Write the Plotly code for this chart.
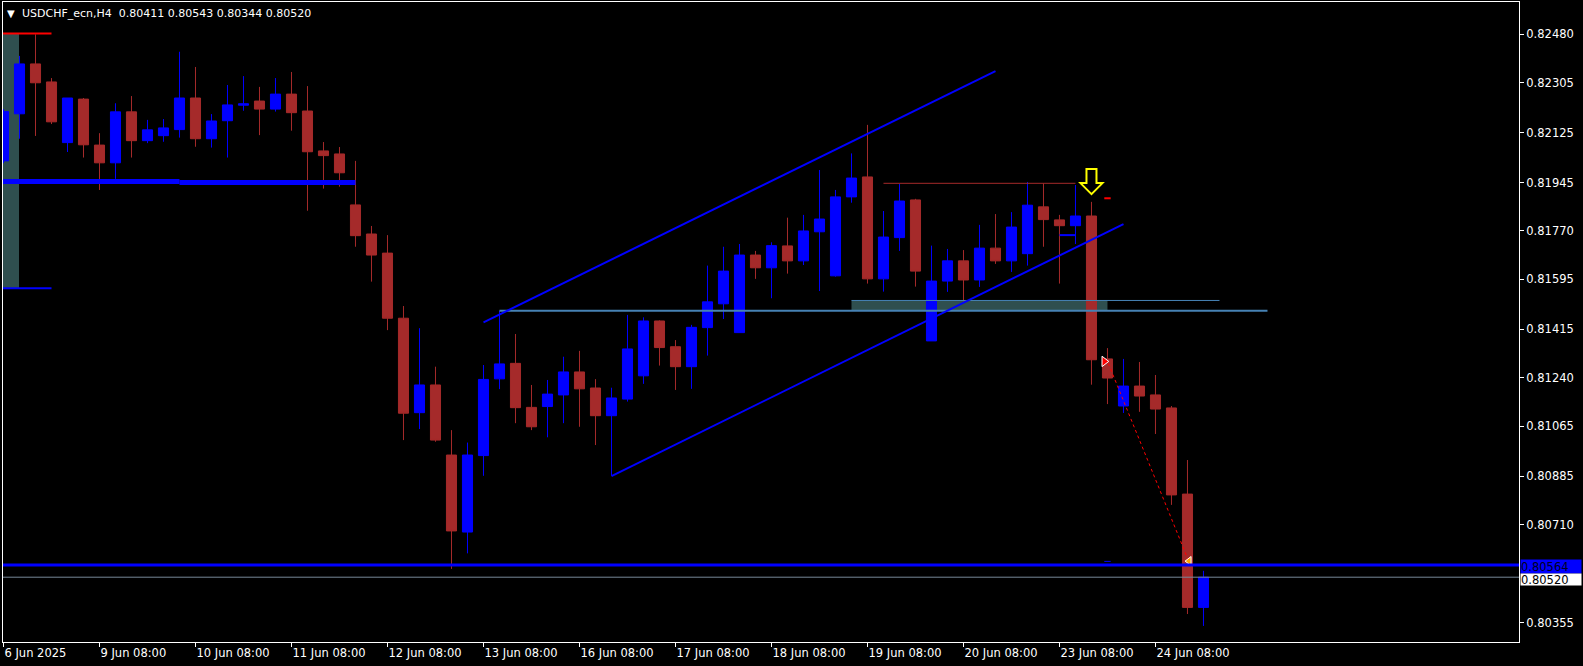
import plotly.graph_objects as go

# ---------------- data ----------------
bar_index = list(range(76))
opens = [0.82023, 0.82193, 0.82373, 0.82308, 0.82089, 0.82246, 0.82080, 0.82016, 0.82200, 0.82096,
         0.82114, 0.82136, 0.82250, 0.82103, 0.82168, 0.82224, 0.82239, 0.82210, 0.82264, 0.82203,
         0.82059, 0.82048, 0.81864, 0.81759, 0.81690, 0.81455, 0.81114, 0.81214, 0.80961, 0.80683,
         0.80959, 0.81236, 0.81292, 0.81133, 0.81136, 0.81178, 0.81261, 0.81203, 0.81103, 0.81163,
         0.81247, 0.81445, 0.81352, 0.81280, 0.81421, 0.81507, 0.81403, 0.81683, 0.81637, 0.81716,
         0.81662, 0.81767, 0.81608, 0.81893, 0.81965, 0.81597, 0.81746, 0.81882, 0.81373, 0.81589,
         0.81662, 0.81593, 0.81708, 0.81662, 0.81688, 0.81857, 0.81810, 0.81789, 0.81824, 0.81308,
         0.81138, 0.81210, 0.81178, 0.81131, 0.80820, 0.80411]
highs = [0.82210, 0.82402, 0.82480, 0.82322, 0.82250, 0.82250, 0.82123, 0.82231, 0.82257, 0.82171,
         0.82174, 0.82417, 0.82362, 0.82192, 0.82297, 0.82329, 0.82290, 0.82322, 0.82344, 0.82293,
         0.82091, 0.82073, 0.82023, 0.81788, 0.81755, 0.81499, 0.81419, 0.81280, 0.81051, 0.81006,
         0.81286, 0.81482, 0.81398, 0.81214, 0.81232, 0.81316, 0.81337, 0.81235, 0.81204, 0.81467,
         0.81458, 0.81447, 0.81376, 0.81431, 0.81645, 0.81713, 0.81723, 0.81698, 0.81729, 0.81818,
         0.81828, 0.81990, 0.81918, 0.82050, 0.82153, 0.81842, 0.81940, 0.81886, 0.81717, 0.81705,
         0.81701, 0.81792, 0.81831, 0.81838, 0.81947, 0.81942, 0.81828, 0.81936, 0.81875, 0.81347,
         0.81308, 0.81297, 0.81250, 0.81138, 0.80943, 0.80543]
lows = [0.82015, 0.82103, 0.82113, 0.82156, 0.82055, 0.82035, 0.81918, 0.81958, 0.82035, 0.82087,
        0.82092, 0.82107, 0.82074, 0.82071, 0.82035, 0.82204, 0.82116, 0.82201, 0.82132, 0.81843,
        0.81923, 0.81930, 0.81713, 0.81587, 0.81412, 0.81015, 0.81055, 0.81009, 0.80550, 0.80606,
        0.80886, 0.81199, 0.81076, 0.81051, 0.81025, 0.81076, 0.81063, 0.80997, 0.80886, 0.81154,
        0.81218, 0.81284, 0.81196, 0.81200, 0.81320, 0.81452, 0.81403, 0.81597, 0.81527, 0.81616,
        0.81647, 0.81553, 0.81605, 0.81872, 0.81580, 0.81551, 0.81698, 0.81569, 0.81373, 0.81550,
        0.81515, 0.81568, 0.81651, 0.81622, 0.81645, 0.81713, 0.81580, 0.81723, 0.81215, 0.81145,
        0.81113, 0.81117, 0.81037, 0.80781, 0.80387, 0.80344]
closes = [0.82201, 0.82373, 0.82305, 0.82164, 0.82250, 0.82081, 0.82016, 0.82200, 0.82096, 0.82135,
          0.82142, 0.82250, 0.82103, 0.82167, 0.82225, 0.82229, 0.82210, 0.82264, 0.82197, 0.82056,
          0.82042, 0.81980, 0.81753, 0.81683, 0.81455, 0.81112, 0.81214, 0.81015, 0.80687, 0.80961,
          0.81234, 0.81290, 0.81132, 0.81063, 0.81181, 0.81261, 0.81200, 0.81103, 0.81167, 0.81344,
          0.81445, 0.81349, 0.81280, 0.81422, 0.81514, 0.81625, 0.81683, 0.81637, 0.81717, 0.81662,
          0.81770, 0.81813, 0.81893, 0.81961, 0.81597, 0.81748, 0.81878, 0.81625, 0.81589, 0.81662,
          0.81593, 0.81708, 0.81662, 0.81784, 0.81863, 0.81811, 0.81789, 0.81824, 0.81305, 0.81239,
          0.81210, 0.81174, 0.81127, 0.80817, 0.80411, 0.80520]

x_tick_index = [0, 6, 12, 18, 24, 30, 36, 42, 48, 54, 60, 66, 72]
x_tick_labels = ["6 Jun 2025", "9 Jun 08:00", "10 Jun 08:00", "11 Jun 08:00", "12 Jun 08:00",
                 "13 Jun 08:00", "16 Jun 08:00", "17 Jun 08:00", "18 Jun 08:00", "19 Jun 08:00",
                 "20 Jun 08:00", "23 Jun 08:00", "24 Jun 08:00"]
y_tick_values = [0.82480, 0.82305, 0.82125, 0.81945, 0.81770, 0.81595, 0.81415,
                 0.81240, 0.81065, 0.80885, 0.80710, 0.80355]

header_text = "USDCHF_ecn,H4\u00a0\u00a00.80411 0.80543 0.80344 0.80520"

# drawings (bar index, price)
range_box = dict(x0=-0.03, x1=0.97, top=0.82483, bottom=0.81563)
range_lines_x = [-0.03, 3.0]
level_thick = [(-0.03, 11.0, 0.81949), (11.0, 22.0, 0.81945)]
channel_upper = [(30, 0.81440), (62, 0.82347)]
channel_lower = [(38, 0.80885), (70, 0.81795)]
steel_level = (31, 79, 0.81482)
steel_thin = (53, 76, 0.81519)
zone_rect = (53, 69, 0.81482, 0.81519)
top_level = (55, 67, 0.81942)
small_blue = (66, 67, 0.81755)
red_dash = (68.8, 69.2, 0.81888)
blue_dash = (68.8, 69.2, 0.80577)
trade_line = [(69.05, 0.81292), (74.05, 0.80582)]
trade_open_marker = (68.8, 0.81299)
trade_close_marker = (74.1, 0.80578)
signal_arrow = (68, 0.81903)
ask_level = 0.80564
bid_level = 0.80520

BLUE = "#0000FF"
RED = "#A52A2A"
STEEL = "#4682B4"
FONT = "DejaVu Sans"
FS = 11.5

fig = go.Figure()
fig.add_trace(go.Candlestick(
    x=bar_index, open=opens, high=highs, low=lows, close=closes,
    increasing=dict(line=dict(color=BLUE, width=1), fillcolor=BLUE),
    decreasing=dict(line=dict(color=RED, width=1), fillcolor=RED),
    whiskerwidth=0, hoverinfo="skip", showlegend=False,
))

# trade dotted line + markers
fig.add_trace(go.Scatter(x=[p[0] for p in trade_line], y=[p[1] for p in trade_line],
                         mode="lines", line=dict(color="#FF0000", width=1, dash="dot"),
                         hoverinfo="skip", showlegend=False))
fig.add_trace(go.Scatter(x=[trade_open_marker[0]], y=[trade_open_marker[1]], mode="markers",
                         marker=dict(symbol="triangle-right", size=9, color="#FF0000",
                                     line=dict(color="white", width=1)),
                         hoverinfo="skip", showlegend=False))
fig.add_trace(go.Scatter(x=[trade_close_marker[0]], y=[trade_close_marker[1]], mode="markers",
                         marker=dict(symbol="triangle-left", size=8, color="#FFA500",
                                     line=dict(color="white", width=1)),
                         hoverinfo="skip", showlegend=False))

shapes = []
# left range box
shapes.append(dict(type="rect", xref="x", yref="y", x0=range_box["x0"], x1=range_box["x1"],
                   y0=range_box["bottom"], y1=range_box["top"], fillcolor="#2F4F4F",
                   line=dict(width=0), layer="below"))
shapes.append(dict(type="line", xref="x", yref="y", x0=range_lines_x[0], x1=range_lines_x[1],
                   y0=range_box["top"], y1=range_box["top"], line=dict(color="#FF0000", width=2)))
shapes.append(dict(type="line", xref="x", yref="y", x0=range_lines_x[0], x1=range_lines_x[1],
                   y0=range_box["bottom"], y1=range_box["bottom"], line=dict(color=BLUE, width=2)))
for x0, x1, y in level_thick:
    shapes.append(dict(type="line", xref="x", yref="y", x0=x0, x1=x1, y0=y, y1=y,
                       line=dict(color=BLUE, width=5)))
# zone
shapes.append(dict(type="rect", xref="x", yref="y", x0=zone_rect[0], x1=zone_rect[1],
                   y0=zone_rect[2], y1=zone_rect[3], fillcolor="#2F4F4F",
                   line=dict(width=0), layer="below"))
shapes.append(dict(type="line", xref="x", yref="y", x0=steel_thin[0], x1=steel_thin[1],
                   y0=steel_thin[2], y1=steel_thin[2], line=dict(color=STEEL, width=1)))
shapes.append(dict(type="line", xref="x", yref="y", x0=steel_level[0], x1=steel_level[1],
                   y0=steel_level[2], y1=steel_level[2], line=dict(color=STEEL, width=2)))
# channel
for ch in (channel_upper, channel_lower):
    shapes.append(dict(type="line", xref="x", yref="y", x0=ch[0][0], y0=ch[0][1],
                       x1=ch[1][0], y1=ch[1][1], line=dict(color=BLUE, width=2)))
shapes.append(dict(type="line", xref="x", yref="y", x0=top_level[0], x1=top_level[1],
                   y0=top_level[2], y1=top_level[2], line=dict(color=RED, width=1)))
shapes.append(dict(type="line", xref="x", yref="y", x0=small_blue[0], x1=small_blue[1],
                   y0=small_blue[2], y1=small_blue[2], line=dict(color=BLUE, width=2)))
shapes.append(dict(type="line", xref="x", yref="y", x0=red_dash[0], x1=red_dash[1],
                   y0=red_dash[2], y1=red_dash[2], line=dict(color="#FF0000", width=2)))
shapes.append(dict(type="line", xref="x", yref="y", x0=blue_dash[0], x1=blue_dash[1],
                   y0=blue_dash[2], y1=blue_dash[2], line=dict(color=BLUE, width=1)))
# ask / bid
shapes.append(dict(type="line", xref="paper", yref="y", x0=0, x1=1, y0=ask_level, y1=ask_level,
                   line=dict(color=BLUE, width=3)))
shapes.append(dict(type="line", xref="paper", yref="y", x0=0, x1=1, y0=bid_level, y1=bid_level,
                   line=dict(color="#778899", width=1)))
# signal arrow (pixel sized)
shapes.append(dict(type="path", xref="x", yref="y", xsizemode="pixel", ysizemode="pixel",
                   xanchor=signal_arrow[0], yanchor=signal_arrow[1],
                   path="M 0 0 L -11 11 L -5 11 L -5 25 L 5 25 L 5 11 L 11 11 Z",
                   fillcolor="black", line=dict(color="#FFFF00", width=2)))

annotations = [
    dict(xref="paper", yref="paper", x=0, y=1, xanchor="left", yanchor="top", xshift=2, yshift=-4,
         text="\u25BC", showarrow=False,
         font=dict(family=FONT, size=10, color="white")),
    dict(xref="paper", yref="paper", x=0, y=1, xanchor="left", yanchor="top", xshift=17, yshift=-3,
         text=header_text, showarrow=False,
         font=dict(family=FONT, size=11, color="white")),
    dict(xref="paper", yref="y", x=1, y=ask_level, xanchor="left", yanchor="middle", xshift=1,
         yshift=-1, text="0.80564", showarrow=False, bgcolor=BLUE, width=60, height=13,
         align="left", borderpad=0, font=dict(family=FONT, size=FS, color="#000022")),
    dict(xref="paper", yref="y", x=1, y=bid_level, xanchor="left", yanchor="middle", xshift=1,
         yshift=-2, text="0.80520", showarrow=False, bgcolor="white", width=60, height=11,
         align="left", borderpad=0, font=dict(family=FONT, size=FS, color="black")),
]

y_top = 0.825966
y_bottom = 0.80286

fig.update_layout(
    width=1583, height=666,
    margin=dict(l=3, r=64, t=2, b=24, autoexpand=False),
    paper_bgcolor="black", plot_bgcolor="black",
    boxgap=0.37, boxgroupgap=0,
    shapes=shapes, annotations=annotations,
    showlegend=False, hovermode=False,
    font=dict(family=FONT, size=FS, color="white"),
    xaxis=dict(range=[-0.031, 94.72], showgrid=False, zeroline=False,
               rangeslider=dict(visible=False),
               tickmode="array", tickvals=x_tick_index, ticktext=x_tick_labels,
               ticks="outside", ticklen=4, tickcolor="white", tickwidth=1,
               ticklabelposition="outside right",
               tickfont=dict(family=FONT, size=FS, color="white"),
               showline=True, linecolor="white", linewidth=1, mirror=True),
    yaxis=dict(range=[y_bottom, y_top], side="right", showgrid=False, zeroline=False,
               tickmode="array", tickvals=y_tick_values,
               ticktext=[f"{v:.5f}" for v in y_tick_values],
               ticks="outside", ticklen=4, tickcolor="white", tickwidth=1,
               tickfont=dict(family=FONT, size=FS, color="white"),
               showline=True, linecolor="white", linewidth=1, mirror=True),
)

fig.write_html("out.html", config={"displayModeBar": False},
               post_script="document.body.style.margin='0';document.body.style.background='black';")
